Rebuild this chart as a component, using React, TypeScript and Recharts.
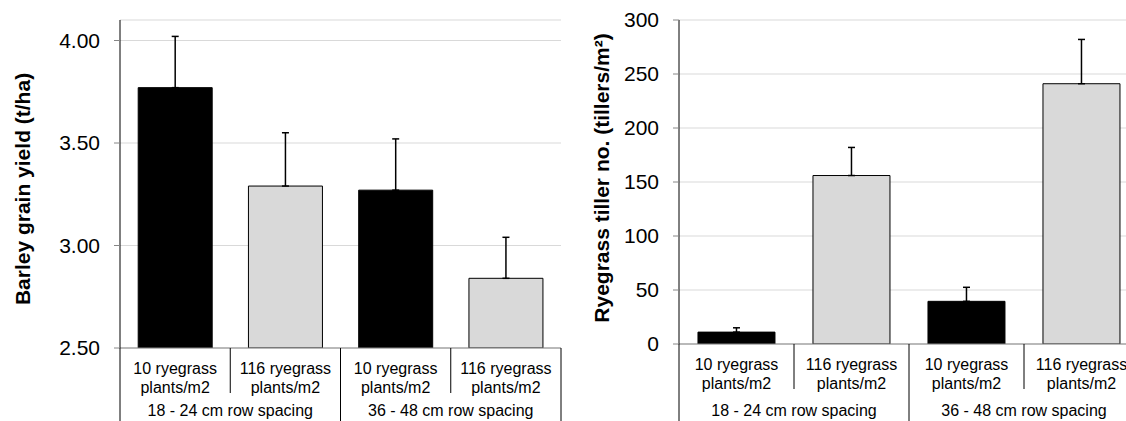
import { BarChart, Bar, Cell, XAxis, YAxis, CartesianGrid, ErrorBar } from "recharts"

const densities = ["10 ryegrass", "116 ryegrass", "10 ryegrass", "116 ryegrass"]
const densityUnit = "plants/m2"
const spacings = ["18 - 24 cm row spacing", "36 - 48 cm row spacing"]
const barColors = ["#000000", "#d9d9d9", "#000000", "#d9d9d9"]

const yieldMeans = [3.77, 3.29, 3.27, 2.84]
const yieldErrors = [0.25, 0.26, 0.25, 0.2]
const yieldTicks = [2.5, 3, 3.5, 4]

const tillerMeans = [11, 156, 39.5, 241]
const tillerErrors = [4, 26, 13, 41]
const tillerTicks = [0, 50, 100, 150, 200, 250, 300]

const FONT = "'Liberation Sans', Arial, sans-serif"

function buildRows(means: number[], errors: number[]) {
  return means.map((m, i) => ({
    slot: `${spacings[Math.floor(i / 2)]}|${densities[i]}|${i}`,
    mean: m,
    err: [0, errors[i]],
  }))
}

function makeCategoryTick(band: number, axisHeight: number, groupY: number) {
  return (props: any) => {
    const { x, y, payload } = props
    const i = payload.index
    const left = x - band / 2
    const right = x + band / 2
    const bottom = y + axisHeight
    return (
      <g>
        <text x={x} y={y + 26} textAnchor="middle" fontSize={16} fontFamily={FONT} fill="#000">
          {densities[i]}
        </text>
        <text x={x} y={y + 45} textAnchor="middle" fontSize={16} fontFamily={FONT} fill="#000">
          {densityUnit}
        </text>
        {i % 2 === 0 ? (
          <>
            <line x1={left} y1={y} x2={left} y2={bottom} stroke="#000" strokeWidth={1} />
            <text x={right} y={y + groupY} textAnchor="middle" fontSize={16} fontFamily={FONT} fill="#000">
              {spacings[i / 2]}
            </text>
          </>
        ) : (
          <line x1={left} y1={y} x2={left} y2={y + 45} stroke="#000" strokeWidth={1} />
        )}
        {i === densities.length - 1 && (
          <line x1={right} y1={y} x2={right} y2={bottom} stroke="#000" strokeWidth={1} />
        )}
      </g>
    )
  }
}

function AxisTitle({ viewBox, value, dx, dy }: any) {
  const cx = viewBox.x + dx
  const cy = viewBox.y + viewBox.height / 2 + dy
  return (
    <text
      x={cx}
      y={cy}
      transform={`rotate(-90, ${cx}, ${cy})`}
      textAnchor="middle"
      dominantBaseline="central"
      fontSize={21}
      fontWeight="bold"
      fontFamily={FONT}
      fill="#000"
    >
      {value}
    </text>
  )
}

interface PanelProps {
  means: number[]
  errors: number[]
  domain: [number, number]
  ticks: number[]
  format: (v: number) => string
  title: string
  width: number
  yAxisWidth: number
  xAxisHeight: number
  groupY: number
  titleDx: number
  titleDy: number
}

function Panel(p: PanelProps) {
  const rows = buildRows(p.means, p.errors)
  const band = (p.width - 1 - p.yAxisWidth) / rows.length
  return (
    <BarChart
      width={p.width}
      height={421}
      data={rows}
      margin={{ top: 20, right: 1, bottom: 0, left: 0 }}
      barCategoryGap="16.5%"
    >
      <CartesianGrid vertical={false} stroke="#d9d9d9" />
      <XAxis
        dataKey="slot"
        interval={0}
        height={p.xAxisHeight}
        tickSize={0}
        tickMargin={0}
        tickLine={false}
        axisLine={{ stroke: "#868686" }}
        tick={makeCategoryTick(band, p.xAxisHeight, p.groupY)}
      />
      <YAxis
        type="number"
        domain={p.domain}
        ticks={p.ticks}
        allowDataOverflow
        width={p.yAxisWidth}
        tickSize={6}
        tickMargin={14}
        tickFormatter={p.format}
        axisLine={{ stroke: "#000" }}
        tickLine={{ stroke: "#868686" }}
        tick={{ fontSize: 21, fontFamily: FONT, fill: "#000" }}
        label={<AxisTitle value={p.title} dx={p.titleDx} dy={p.titleDy} />}
      />
      <Bar dataKey="mean" stroke="#000" strokeWidth={1} isAnimationActive={false}>
        {rows.map((_, idx) => (
          <Cell key={`cell-${idx}`} fill={barColors[idx]} />
        ))}
        <ErrorBar dataKey="err" direction="y" width={3.5} stroke="#000" strokeWidth={1.5} isAnimationActive={false} />
      </Bar>
    </BarChart>
  )
}

export default function App() {
  return (
    <div
      style={{
        position: "absolute",
        left: 0,
        top: 0,
        width: 1126,
        height: 421,
        overflow: "hidden",
        background: "#fff",
      }}
    >
      <div style={{ position: "absolute", left: 0, top: 0, width: 562, height: 421 }}>
        <Panel
          means={yieldMeans}
          errors={yieldErrors}
          domain={[2.5, 4.1]}
          ticks={yieldTicks}
          format={(v) => v.toFixed(2)}
          title="Barley grain yield (t/ha)"
          width={562}
          yAxisWidth={120}
          xAxisHeight={73}
          groupY={68}
          titleDx={22}
          titleDy={5}
        />
      </div>
      <div style={{ position: "absolute", left: 560, top: 0, width: 566, height: 421, overflow: "hidden" }}>
        <Panel
          means={tillerMeans}
          errors={tillerErrors}
          domain={[0, 300]}
          ticks={tillerTicks}
          format={(v) => String(v)}
          title="Ryegrass tiller no. (tillers/m²)"
          width={580}
          yAxisWidth={119}
          xAxisHeight={77}
          groupY={72}
          titleDx={41}
          titleDy={-4}
        />
      </div>
    </div>
  )
}
